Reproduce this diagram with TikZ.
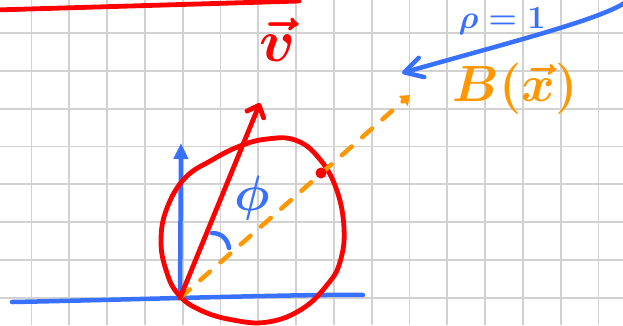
\documentclass[tikz,border=0pt]{standalone}
\usepackage{amsmath}
\usetikzlibrary{arrows.meta}
\definecolor{inkred}{RGB}{255,0,0}
\definecolor{inkblue}{RGB}{56,112,255}
\definecolor{inkorange}{RGB}{255,152,0}
\definecolor{gridgray}{RGB}{210,210,210}

\begin{document}
\begin{tikzpicture}[
  x=1pt, y=-1pt,
  gridline/.style={draw=gridgray, line width=1.8pt},
  redink/.style={draw=inkred, line width=4.8pt, line cap=round, line join=round},
  blueink/.style={draw=inkblue, line width=4.5pt, line cap=round, line join=round},
  orangeink/.style={draw=inkorange, line width=4.5pt, line cap=round},
  handlabel/.style={inner sep=0pt, font=\Huge\boldmath},
  hitdot/.style={circle, fill=inkred, inner sep=0pt, minimum size=11pt}
]
\useasboundingbox (0,0) rectangle (623,325);
\clip (0,0) rectangle (623,325);
\fill[white] (0,0) rectangle (623,325);
% squared paper
\foreach \gx in {0,...,15} \draw[gridline] (31.5+37.8*\gx,0) -- (31.5+37.8*\gx,325);
\foreach \gy in {0,...,7} \draw[gridline] (0,33+37.8*\gy) -- (623,33+37.8*\gy);

\coordinate (O) at (180,298);
\coordinate (xstart) at (12,302);
\coordinate (xend) at (363,295);
\coordinate (ytip) at (181,143);
\coordinate (vtip) at (260,103);
\coordinate (btip) at (410,95);
\coordinate (rhotail) at (626,2);
\coordinate (rhotip) at (402,73);
\coordinate (topstart) at (-5,10);
\coordinate (topend) at (299,1);
\coordinate (arcA) at (212,233);
\coordinate (arcB) at (229,248);

% red stroke at the top
\draw[redink] (topstart) -- (topend);

% axes
\draw[blueink] (xstart) .. controls (120,300) and (300,294) .. (xend);
\draw[blueink, -{Triangle[length=16pt,width=14pt]}] (O) -- (ytip);

% red circle
\draw[redink] plot[smooth cycle, tension=0.7] coordinates {
  (267,139) (295,140) (318,157) (336,188) (344,228) (340,262) (327,285)
  (302,309) (268,322) (233,320) (200,310) (178,294) (166,270) (161,240)
  (167,208) (185,178) (212,160) (240,146)};

% direction to B
\draw[orangeink, dash pattern=on 13pt off 14pt, -{Triangle[length=9pt,width=13pt]}] (O) -- (btip);
\node[hitdot] (hit) at (321,173) {};

% vector
\draw[redink, -{Straight Barb[round,length=10pt,width=18pt]}] (O) -- (vtip);

% angle
\draw[blueink] (arcA) .. controls (222,233) and (228,240) .. (arcB);

% arrow from rho
\draw[blueink, -{Straight Barb[round,length=18pt,width=20pt]}] (rhotail) .. controls (600,20) and (500,45) .. (rhotip);

% labels
\node[handlabel, text=inkred, scale=2.4] (vlabel) at (277,40) {$\vec{v}$};
\node[handlabel, text=inkblue, scale=2] (philabel) at (252,198) {$\phi$};
\node[handlabel, text=inkorange, scale=2.05] (blabel) at (515,89) {$B(\vec{x})$};
\node[handlabel, text=inkblue, scale=1.3, anchor=base] (rholabel) at (502,28) {$\rho=1$};
\end{tikzpicture}
\end{document}
